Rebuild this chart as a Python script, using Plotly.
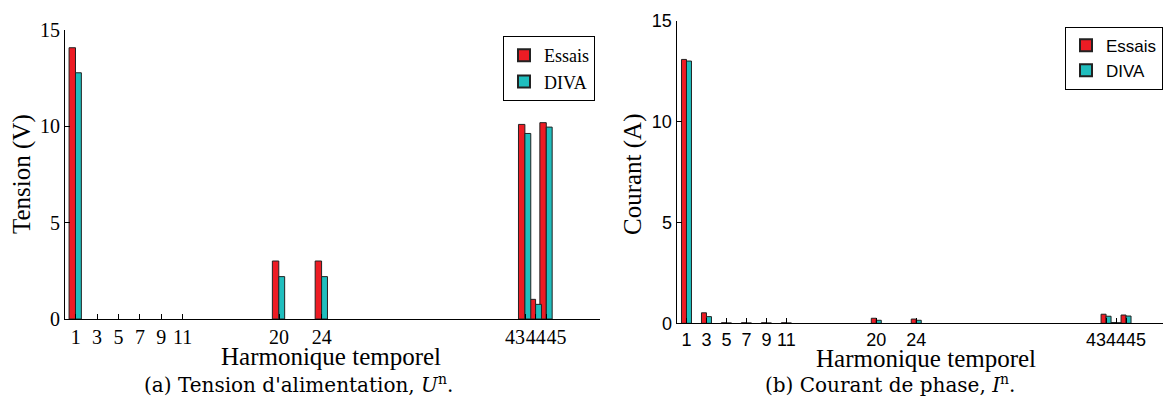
import plotly.graph_objects as go

harmonics = [1, 3, 5, 7, 9, 11, 20, 24, 43, 44, 45]
tick_labels = ["1", "3", "5", "7", "9", "11", "20", "24", "43\u2007\u2007", "44", "\u2007\u200745"]

tension_essais = [14.08, 0, 0, 0, 0, 0, 3.01, 3.01, 10.1, 1.02, 10.19]
tension_diva = [12.78, 0, 0, 0, 0, 0, 2.2, 2.2, 9.63, 0.76, 9.96]

courant_essais = [13.08, 0.52, 0.03, 0.03, 0.03, 0.03, 0.25, 0.21, 0.45, 0.04, 0.41]
courant_diva = [13.0, 0.33, 0.02, 0.02, 0.02, 0.02, 0.15, 0.15, 0.35, 0.03, 0.36]

RED = "#ED1C24"
CYAN = "#20BEBE"
EDGE = "#222222"

# page has an 8px body margin: convert page pixel positions to figure coordinates
OFF = 8
W, H = 1171 - OFF, 409 - OFF


def px(xp):
    return (xp - OFF) / W


def py(yp):
    return 1 - (yp - OFF) / H


def nz(v):
    return [x if x != 0 else None for x in v]


fig = go.Figure()
fig.add_trace(go.Bar(x=harmonics, y=nz(tension_essais), name="Essais",
                     marker=dict(color=RED, line=dict(color=EDGE, width=1)),
                     width=0.6, offset=-0.62, xaxis="x", yaxis="y", legend="legend"))
fig.add_trace(go.Bar(x=harmonics, y=nz(tension_diva), name="DIVA",
                     marker=dict(color=CYAN, line=dict(color=EDGE, width=1)),
                     width=0.55, offset=-0.02, xaxis="x", yaxis="y", legend="legend"))
fig.add_trace(go.Bar(x=harmonics, y=courant_essais, name="Essais",
                     marker=dict(color=RED, line=dict(color=EDGE, width=1)),
                     width=0.5, offset=-0.5, xaxis="x2", yaxis="y2", legend="legend2"))
fig.add_trace(go.Bar(x=harmonics, y=courant_diva, name="DIVA",
                     marker=dict(color=CYAN, line=dict(color=EDGE, width=1)),
                     width=0.5, offset=0.0, xaxis="x2", yaxis="y2", legend="legend2"))

serif = "Liberation Serif"
sans = "Liberation Sans"

common_x = dict(tickmode="array", tickvals=harmonics, ticktext=tick_labels, ticks="inside", ticklen=5,
                tickcolor="black", showline=True, linecolor="black", linewidth=1, showgrid=False,
                zeroline=False, tickangle=0, fixedrange=True)
common_y = dict(tickmode="array", tickvals=[0, 5, 10, 15], ticks="inside", ticklen=5, tickcolor="black",
                showline=True, linecolor="black", linewidth=1, showgrid=False, zeroline=False, range=[0, 15])

fig.update_layout(
    width=W, height=H,
    margin=dict(l=0, r=0, t=0, b=0, autoexpand=False),
    plot_bgcolor="white", paper_bgcolor="white",
    barmode="overlay", showlegend=True,
    xaxis=dict(common_x, domain=[px(65), px(600)], range=[0, 50], anchor="y",
               tickfont=dict(family=serif, size=20, color="black")),
    yaxis=dict(common_y, domain=[py(319), py(30)], anchor="x",
               tickfont=dict(family=serif, size=20, color="black")),
    xaxis2=dict(common_x, domain=[px(676.5), 1.0], range=[0, 49.5], anchor="y2",
                tickfont=dict(family=sans, size=18, color="black")),
    yaxis2=dict(common_y, domain=[py(323.3), py(20.7)], anchor="x2",
                tickfont=dict(family=sans, size=18, color="black")),
    legend=dict(x=px(595), y=py(36), xanchor="right", yanchor="top", bgcolor="white",
                bordercolor="black", borderwidth=1, font=dict(family=serif, size=18, color="black"),
                tracegroupgap=0, itemsizing="constant"),
    legend2=dict(x=px(1065), y=py(26.7), xanchor="left", yanchor="top", bgcolor="white",
                 bordercolor="black", borderwidth=1, font=dict(family=sans, size=17, color="black"),
                 tracegroupgap=0, itemsizing="constant"),
)

ann = [
    dict(text="Tension (V)", x=px(22), y=py(174), textangle=-90, font=dict(family=serif, size=25)),
    dict(text="Courant (A)", x=px(633), y=py(174), textangle=-90, font=dict(family=serif, size=25)),
    dict(text="Harmonique temporel", x=px(331), y=py(356), font=dict(family=serif, size=25)),
    dict(text="Harmonique temporel", x=px(926), y=py(358), font=dict(family=serif, size=25)),
    dict(text="(a) Tension d'alimentation, <i>U</i><sup>n</sup>.", x=px(298), y=py(384),
         font=dict(family="DejaVu Serif", size=20)),
    dict(text="(b) Courant de phase, <i>I</i><sup>n</sup>.", x=px(890), y=py(384),
         font=dict(family="DejaVu Serif", size=20)),
]
for a in ann:
    a.update(xref="paper", yref="paper", showarrow=False, xanchor="center", yanchor="middle")
    a["font"]["color"] = "black"
    fig.add_annotation(**a)

fig.write_html("out.html")
